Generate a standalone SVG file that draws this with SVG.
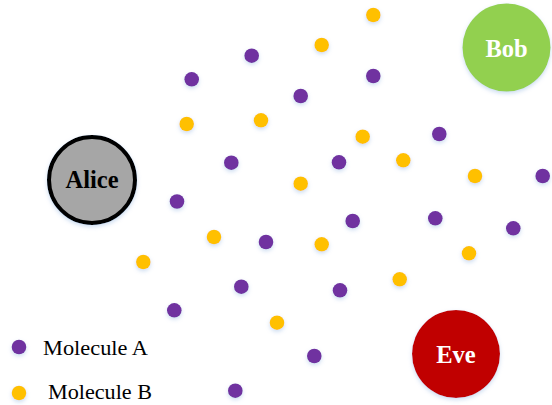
<svg xmlns="http://www.w3.org/2000/svg" width="552" height="405" viewBox="0 0 552 405">
<defs>
<filter id="sh" x="-30%" y="-30%" width="160%" height="170%">
<feDropShadow dx="0" dy="2" stdDeviation="2" flood-color="#8fb4e0" flood-opacity="0.45"/>
</filter>
<style>
.a{fill:#7030a0;filter:url(#sh)}
.b{fill:#ffc000;filter:url(#sh)}
.n{font-family:"Liberation Serif",serif;font-weight:bold;font-size:24.5px;text-anchor:middle}
.l{font-family:"Liberation Serif",serif;font-size:20.5px;fill:#000}
</style>
</defs>
<rect width="552" height="405" fill="#fff"/>
<g id="alice"><circle cx="92" cy="180" r="43" fill="#a6a6a6" stroke="#000" stroke-width="4" filter="url(#sh)"/><text class="n" x="92" y="188" fill="#000">Alice</text></g>
<g id="bob"><circle cx="506.5" cy="47.5" r="44" fill="#92d050" filter="url(#sh)"/><text class="n" x="506.5" y="57" fill="#fff">Bob</text></g>
<g id="eve"><circle cx="456" cy="354" r="44" fill="#c00000" filter="url(#sh)"/><text class="n" x="456" y="362.5" fill="#fff">Eve</text></g>
<g id="moleculesA">
<circle class="a" cx="251.7" cy="55.7" r="7.3"/><circle class="a" cx="191.7" cy="79.3" r="7.3"/><circle class="a" cx="373.3" cy="76" r="7.3"/><circle class="a" cx="300.7" cy="96" r="7.3"/><circle class="a" cx="439.3" cy="134" r="7.3"/><circle class="a" cx="231.3" cy="162.7" r="7.3"/><circle class="a" cx="339" cy="162.3" r="7.3"/><circle class="a" cx="542.7" cy="176" r="7.3"/><circle class="a" cx="177" cy="201.5" r="7.3"/><circle class="a" cx="352.7" cy="221" r="7.3"/><circle class="a" cx="435.3" cy="218.3" r="7.3"/><circle class="a" cx="513.3" cy="228.3" r="7.3"/><circle class="a" cx="266" cy="242" r="7.3"/><circle class="a" cx="241.3" cy="286.7" r="7.3"/><circle class="a" cx="340" cy="290.3" r="7.3"/><circle class="a" cx="174.3" cy="310.3" r="7.3"/><circle class="a" cx="314.3" cy="356" r="7.3"/><circle class="a" cx="235.3" cy="390.7" r="7.3"/>
</g>
<g id="moleculesB">
<circle class="b" cx="373.3" cy="15" r="7.3"/><circle class="b" cx="321.7" cy="45" r="7.3"/><circle class="b" cx="186.7" cy="124" r="7.3"/><circle class="b" cx="261" cy="120.3" r="7.3"/><circle class="b" cx="362.7" cy="136.7" r="7.3"/><circle class="b" cx="403.3" cy="160.3" r="7.3"/><circle class="b" cx="300.7" cy="183.7" r="7.3"/><circle class="b" cx="475" cy="176" r="7.3"/><circle class="b" cx="214" cy="237" r="7.3"/><circle class="b" cx="321.7" cy="244.3" r="7.3"/><circle class="b" cx="469" cy="253.3" r="7.3"/><circle class="b" cx="143.3" cy="262" r="7.3"/><circle class="b" cx="399.7" cy="279.3" r="7.3"/><circle class="b" cx="277" cy="322.7" r="7.3"/>
</g>
<g id="legend">
<circle class="a" cx="19" cy="347" r="7.3"/><text class="l" x="43" y="355" textLength="105" lengthAdjust="spacingAndGlyphs">Molecule A</text>
<circle class="b" cx="19" cy="393" r="7.3"/><text class="l" x="48" y="399" textLength="104" lengthAdjust="spacingAndGlyphs">Molecule B</text>
</g>
</svg>
